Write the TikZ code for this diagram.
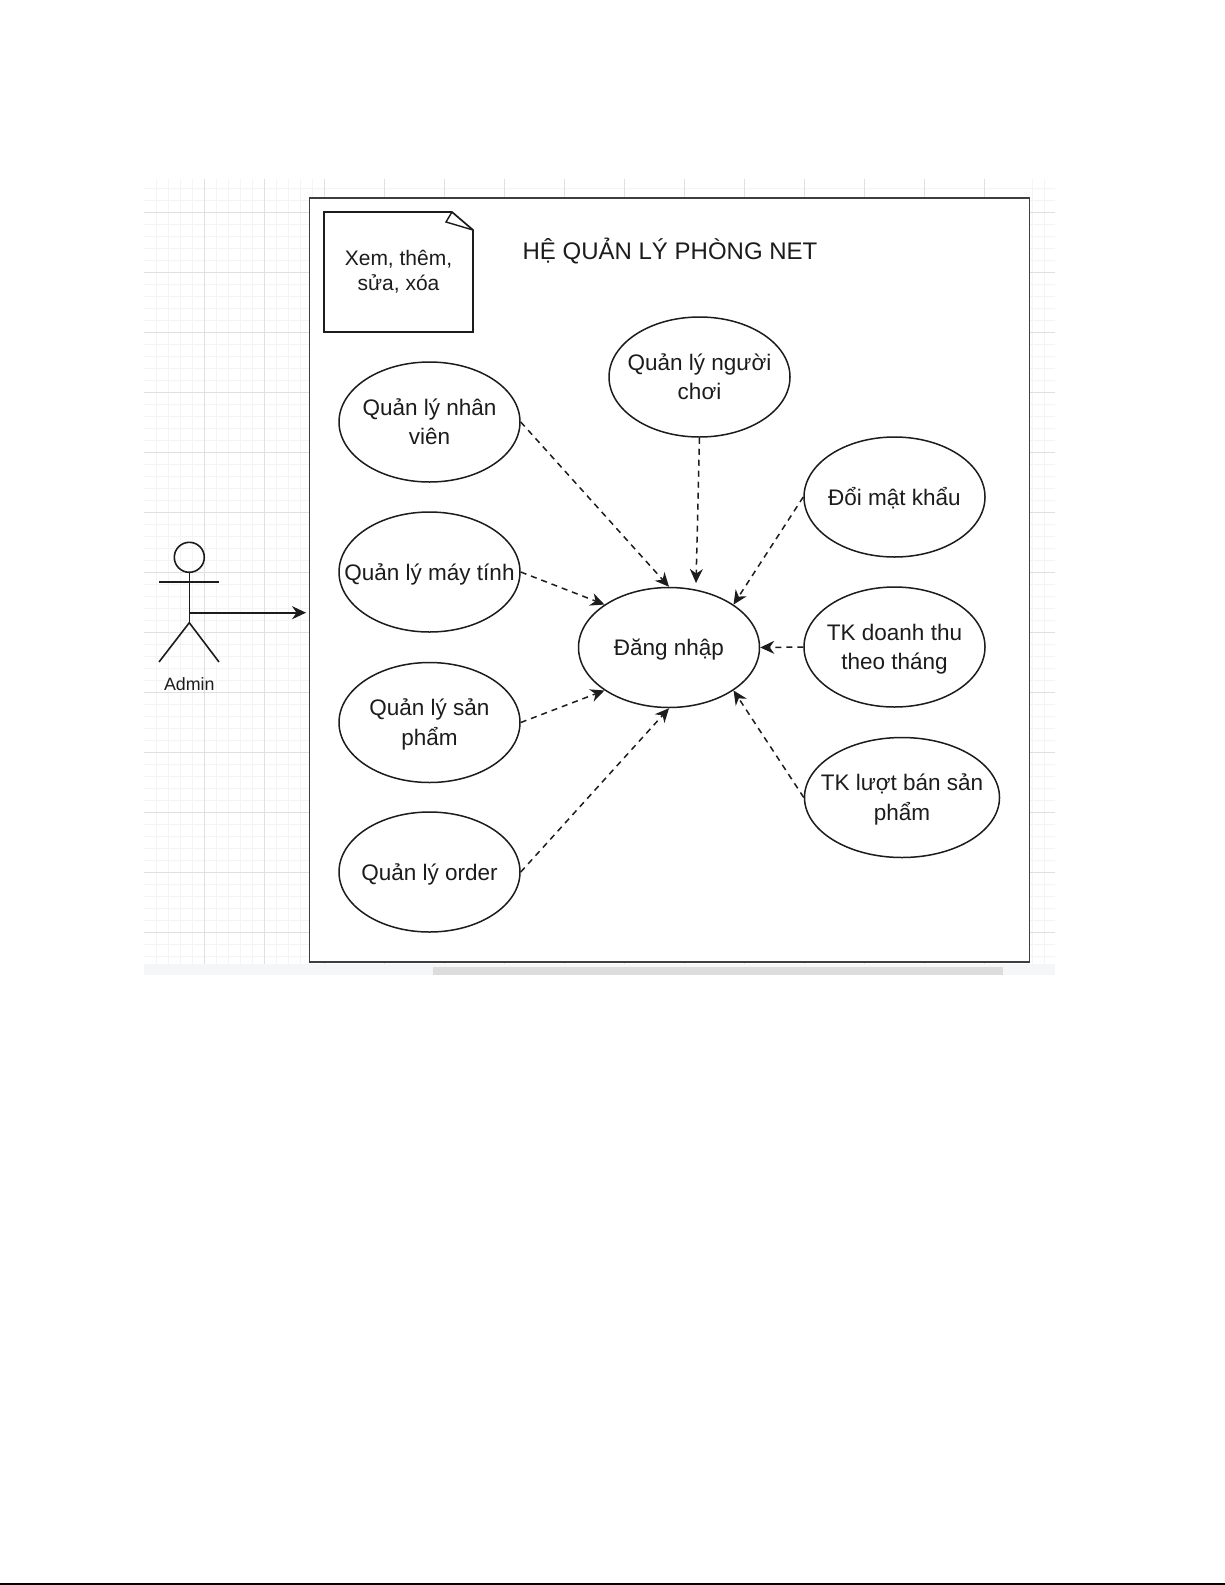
\documentclass[tikz,border=0pt]{standalone}
\usepackage{fontspec}
\setmainfont{Liberation Sans}
\usetikzlibrary{shapes.geometric,arrows.meta}
\definecolor{gridminor}{HTML}{F4F4F4}
\definecolor{gridmajor}{HTML}{E0E0E0}
\definecolor{gutter}{HTML}{F5F6F7}
\definecolor{thumb}{HTML}{DCDCDC}
\definecolor{ink}{HTML}{1C1C1C}
\tikzset{
  usecase/.style={ellipse,draw=ink,line width=1.5pt,minimum width=181pt,minimum height=120pt,
                  inner xsep=-30pt,inner ysep=0pt,align=center,font=\fontsize{22.5}{29.5}\selectfont,
                  text=ink,text height=16pt,text depth=0pt},
  twolines/.style={text height=45.5pt},
  label/.style={align=center,inner sep=0pt,text=ink},
  link/.style={dash pattern=on 6pt off 5pt,line width=1.5pt,draw=ink,
               -{Stealth[length=14pt,width=13pt,inset=4.5pt]}},
  stick/.style={line width=1.6pt,draw=ink}
}
\begin{document}
\begin{tikzpicture}[x=1pt,y=-1pt]
    \useasboundingbox (0,0) rectangle (1225,1585);
    \fill[white] (0,0) rectangle (1225,1585);

    % editor canvas
    \fill[gutter] (143.5,964) rectangle (1055,975);
    \fill[thumb] (432.5,967) rectangle (1003,975);
    \foreach \gx in {156,168,180,192,216,228,240,252,276,288,300,312,1032,1044}
      \draw[gridminor,line width=.8pt] (\gx,179) -- (\gx,964);
    \foreach \gy in {188.5,200.5,224.5,236.5,248.5,260.5,284.5,296.5,308.5,320.5,344.5,356.5,368.5,380.5,
                     404.5,416.5,428.5,440.5,464.5,476.5,488.5,500.5,524.5,536.5,548.5,560.5,
                     584.5,596.5,608.5,620.5,644.5,656.5,668.5,680.5,704.5,716.5,728.5,740.5,
                     764.5,776.5,788.5,800.5,824.5,836.5,848.5,860.5,884.5,896.5,908.5,920.5,944.5,956.5}
      \draw[gridminor,line width=.8pt] (143.5,\gy) -- (1055,\gy);
    \foreach \gx in {204,264,324,384,444,504,564,624,684,744,804,864,924,984}
      \draw[gridmajor,line width=.8pt] (\gx,179) -- (\gx,964);
    \foreach \gy in {212.5,272.5,332.5,392.5,452.5,512.5,572.5,632.5,692.5,752.5,812.5,872.5,932.5}
      \draw[gridmajor,line width=.8pt] (143.5,\gy) -- (1055,\gy);

    % system box
    \node[draw=ink!85,fill=white,line width=1.9pt,minimum width=720pt,minimum height=763.5pt,
          inner sep=0pt] (system) at (669.5,579.8) {};
    \node[label,font=\fontsize{24}{29}\selectfont] (title) at (670,251) {HỆ QUẢN LÝ PHÒNG NET};

    % note
    \draw[line width=1.7pt,draw=ink] (324,212) -- (452,212) -- (473,230) -- (473,332) -- (324,332) -- cycle;
    \draw[line width=1.4pt,draw=ink] (452,212) -- (446,222) -- (473,230);
    \node[label,font=\fontsize{21}{25}\selectfont] (note) at (398.5,272) {Xem, thêm,\\sửa, xóa};

    % use cases
    \node[usecase,twolines] (nhanvien) at (429.5,422) {Quản lý nhân\\viên};
    \node[usecase] (maytinh) at (429.5,572) {Quản lý máy tính};
    \node[usecase,twolines] (sanpham) at (429.5,722.5) {Quản lý sản\\phẩm};
    \node[usecase] (order) at (429.5,872) {Quản lý order};
    \node[usecase,twolines] (nguoichoi) at (699.5,377) {Quản lý người\\chơi};
    \node[usecase] (matkhau) at (894.5,497) {Đổi mật khẩu};
    \node[usecase,twolines] (doanhthu) at (894.5,647) {TK doanh thu\\theo tháng};
    \node[usecase,twolines,minimum width=195pt] (luotban) at (902,797.5) {TK lượt bán sản\\phẩm};
    \node[usecase] (dangnhap) at (669,647.5) {Đăng nhập};

    % actor
    \node[circle,stick,minimum size=30pt,inner sep=0pt] (head) at (189.3,557.3) {};
    \coordinate (crotch) at (189.3,622.7);
    \coordinate (armL) at (159,582);
    \coordinate (armR) at (219,582);
    \coordinate (legL) at (159,662);
    \coordinate (legR) at (219,662);
    \coordinate (waist) at (189.3,612.7);
    \draw[stick] (head) -- (crotch);
    \draw[stick] (armL) -- (armR);
    \draw[stick] (legL) -- (crotch) -- (legR);
    \node[label,font=\fontsize{17.8}{20}\selectfont] (admin) at (189.3,684) {Admin};
    \draw[stick,-{Stealth[length=14pt,width=13pt,inset=4.5pt]},shorten >=2.5pt] (waist) -- (waist -| system.west);

    % includes
    \coordinate (above) at (696,583);
    \draw[link] (nhanvien.east) -- (dangnhap.north);
    \draw[link] (maytinh.east) -- (dangnhap.north west);
    \draw[link] (sanpham.east) -- (dangnhap.south west);
    \draw[link] (order.east) -- (dangnhap.south);
    \draw[link] (nguoichoi.south) -- (above);
    \draw[link] (matkhau.west) -- (dangnhap.north east);
    \draw[link] (doanhthu.west) -- (dangnhap.east);
    \draw[link] (luotban.west) -- (dangnhap.south east);

    % page edge
    \coordinate (edgeL) at (0,1584);
    \coordinate (edgeR) at (1225,1584);
    \draw[line width=1.6pt,black] (edgeL) -- (edgeR);
\end{tikzpicture}
\end{document}
